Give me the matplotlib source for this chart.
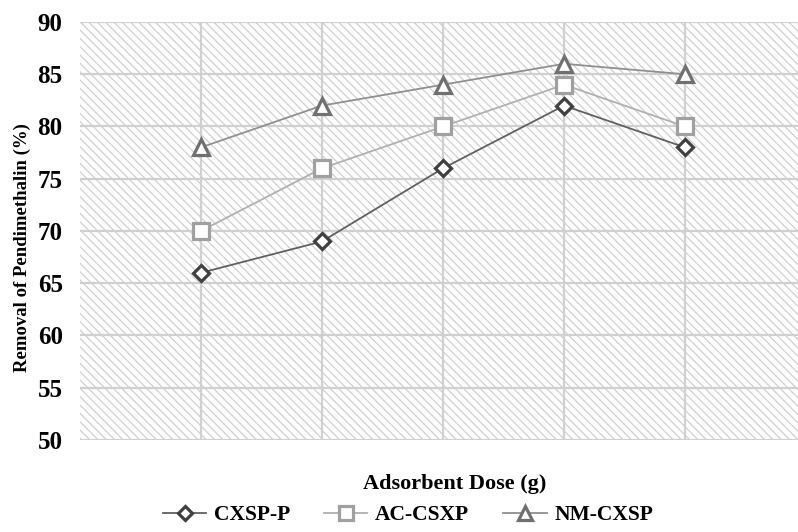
import matplotlib
matplotlib.use("Agg")
import matplotlib.pyplot as plt
from matplotlib.patches import Rectangle

doses = [1, 2, 3, 4, 5]
series_names = ["CXSP-P", "AC-CSXP", "NM-CXSP"]
cxsp_p = [66, 69, 76, 82, 78]
ac_csxp = [70, 76, 80, 84, 80]
nm_cxsp = [78, 82, 84, 86, 85]
yticks = [50, 55, 60, 65, 70, 75, 80, 85, 90]

plt.rcParams['font.family'] = ['Liberation Serif', 'DejaVu Serif']
plt.rcParams['hatch.color'] = '#cdcdcd'
plt.rcParams['hatch.linewidth'] = 0.85

fig = plt.figure(figsize=(7.98, 5.32), dpi=100)
ax = fig.add_axes([80/798, 1-440/532, 1-80/798, (440-22)/532])

ax.set_xlim(0, 718/121)
ax.set_ylim(50, 90)

bg = Rectangle((0, 0), 1, 1, transform=ax.transAxes, facecolor='white',
               edgecolor='#cdcdcd', hatch='\\\\\\\\', linewidth=0, zorder=0)
ax.add_patch(bg)

for y in yticks:
    ax.axhline(y, color='#d0d0d0', lw=1.6, zorder=1)
for x in doses:
    ax.axvline(x, color='#d0d0d0', lw=1.6, zorder=1)

styles = [
    dict(color='#606060', mec='#404040', marker='D', ms=8.5),
    dict(color='#b0b0b0', mec='#a0a0a0', marker='s', ms=12),
    dict(color='#909090', mec='#707070', marker='^', ms=12),
]
handles = []
for name, vals, st in zip(series_names, [cxsp_p, ac_csxp, nm_cxsp], styles):
    ln, = ax.plot(doses, vals, color=st['color'], lw=1.3, marker=st['marker'],
                  ms=st['ms'], mfc='white', mec=st['mec'], mew=2.3, zorder=3,
                  label=name)
    handles.append(ln)

for s in ax.spines.values():
    s.set_visible(False)
ax.set_xticks([])
ax.set_yticks(yticks)
ax.tick_params(axis='y', length=0, pad=12.5, labelsize=18)
for t in ax.get_yticklabels():
    t.set_fontweight('bold')

fig.text(22/798, 1-248/532, 'Removal of Pendimethalin (%)', rotation=90,
         ha='center', va='center', fontsize=13.5, fontweight='bold')
fig.text(455/798, 1-484/532, 'Adsorbent Dose (g)', ha='center', va='center',
         fontsize=16, fontweight='bold')

leg = fig.legend(handles=handles, loc='center', bbox_to_anchor=(408/798, 1-515/532),
                 ncol=3, frameon=False, prop={'weight': 'bold', 'size': 15.5},
                 handlelength=2.0, columnspacing=1.6, handletextpad=0.35,
                 markerscale=0.8)

fig.savefig('out.png', dpi=100, facecolor='white')
